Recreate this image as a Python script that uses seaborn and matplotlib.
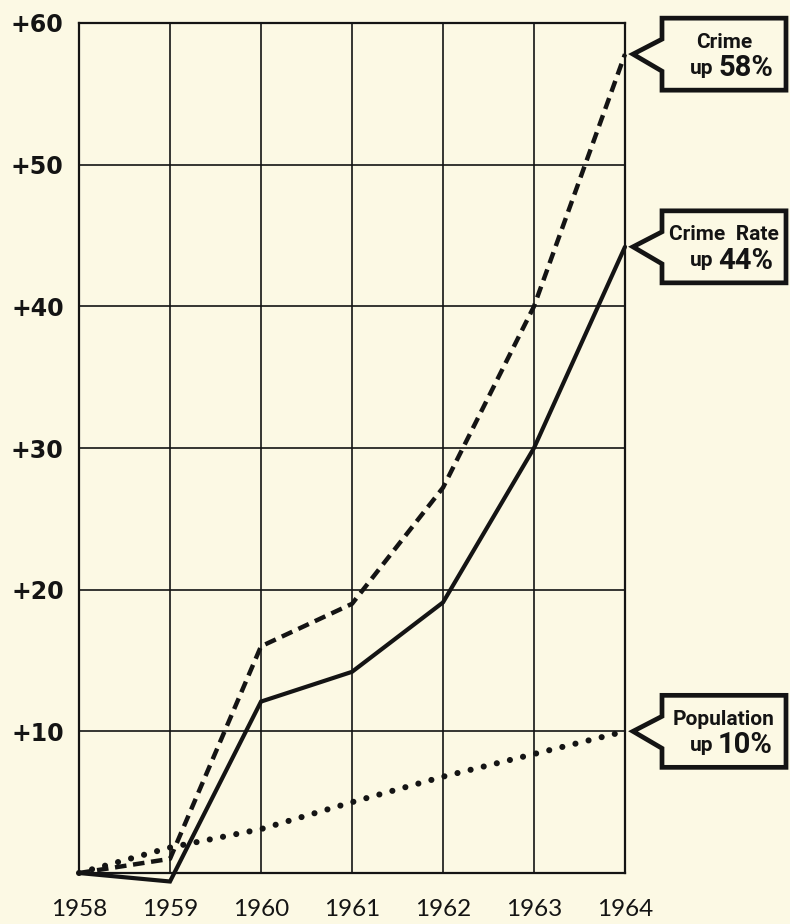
import numpy as np
import pandas as pd

import matplotlib
matplotlib.use("Agg")
import matplotlib.pyplot as plt
from matplotlib.patches import Polygon
from matplotlib.transforms import IdentityTransform
import seaborn as sns

bg = "#fcf9e4"
ink = "#141414"

sns.set_theme(style="white",
              rc={
                  "figure.facecolor": bg,
                  "axes.facecolor": bg,
                  "savefig.facecolor": bg,
              })

# data (percent change since 1958)
years = [1958, 1959, 1960, 1961, 1962, 1963, 1964]
crime = [0, 1.0, 16.0, 19.0, 27.2, 40.0, 57.8]
crime_rate = [0, -0.6, 12.1, 14.2, 19.1, 30.0, 44.2]
population = [0, 1.8, 3.1, 5.0, 6.8, 8.4, 10.0]

y_ticks = [0, 10, 20, 30, 40, 50, 60]
y_labels = ["", "+10", "+20", "+30", "+40", "+50", "+60"]

callouts = [
    ("Crime", "58%", crime),
    ("Crime  Rate", "44%", crime_rate),
    ("Population", "10%", population),
]

df = pd.DataFrame({"year": years, "crime": crime,
                   "rate": crime_rate, "pop": population})

W, H = 790, 924
fig = plt.figure(figsize=(W / 100, H / 100), dpi=100)
ax = fig.add_axes([79 / W, (H - 873) / H, (625 - 79) / W, (873 - 23) / H])

sns.lineplot(data=df, x="year", y="crime", ax=ax, color=ink, lw=3.2,
             linestyle=(0, (2.6, 1.5)), clip_on=False, zorder=3)
sns.lineplot(data=df, x="year", y="rate", ax=ax, color=ink, lw=3.0,
             clip_on=False, zorder=3, solid_joinstyle="miter")
sns.lineplot(data=df, x="year", y="pop", ax=ax, color=ink, lw=4.4,
             linestyle=(0, (0.01, 2.2)), dash_capstyle="round",
             clip_on=False, zorder=3)

ax.set_xlim(1958, 1964)
ax.set_ylim(0, 60)
ax.set_xticks(years)
ax.set_xticklabels([str(y) for y in years], fontsize=17.5, family=["Lato", "DejaVu Sans"],
                   color=ink)
ax.set_yticks(y_ticks)
ax.set_yticklabels(y_labels, fontsize=17, fontweight="bold", color=ink)
ax.tick_params(axis="x", length=0, pad=19)
ax.tick_params(axis="y", length=0, pad=11)
ax.set_xlabel("")
ax.set_ylabel("")
ax.grid(True, color=ink, lw=1.2, zorder=1)
ax.set_axisbelow(True)
for s in ax.spines.values():
    s.set_visible(True)
    s.set_color(ink)
    s.set_linewidth(1.6)

# callout boxes anchored at the 1964 values
cfont = ["Roboto", "DejaVu Sans"]
ident = IdentityTransform()
for head, pct, series in callouts:
    px, py = ax.transData.transform((years[-1], series[-1]))
    tx, ty = px + 8, py
    L, R, T, B = tx + 29, tx + 153, ty + 36, ty - 36
    pts = [(L, T), (R, T), (R, B), (L, B), (L, ty - 17), (tx, ty), (L, ty + 15)]
    fig.add_artist(Polygon(pts, closed=True, facecolor=bg, edgecolor=ink,
                           lw=3.4, joinstyle="miter", transform=ident))
    fig.text(tx + 91, ty + 12, head, transform=ident, ha="center", va="center",
             fontsize=15, fontweight="bold", family=cfont, color=ink)
    fig.text(tx + 80, ty - 14, "up", transform=ident, ha="right", va="center",
             fontsize=15, fontweight="bold", family=cfont, color=ink)
    fig.text(tx + 85, ty - 14, pct, transform=ident, ha="left", va="center",
             fontsize=21, fontweight="bold", family=cfont, color=ink)

fig.savefig("out.png", dpi=100)
